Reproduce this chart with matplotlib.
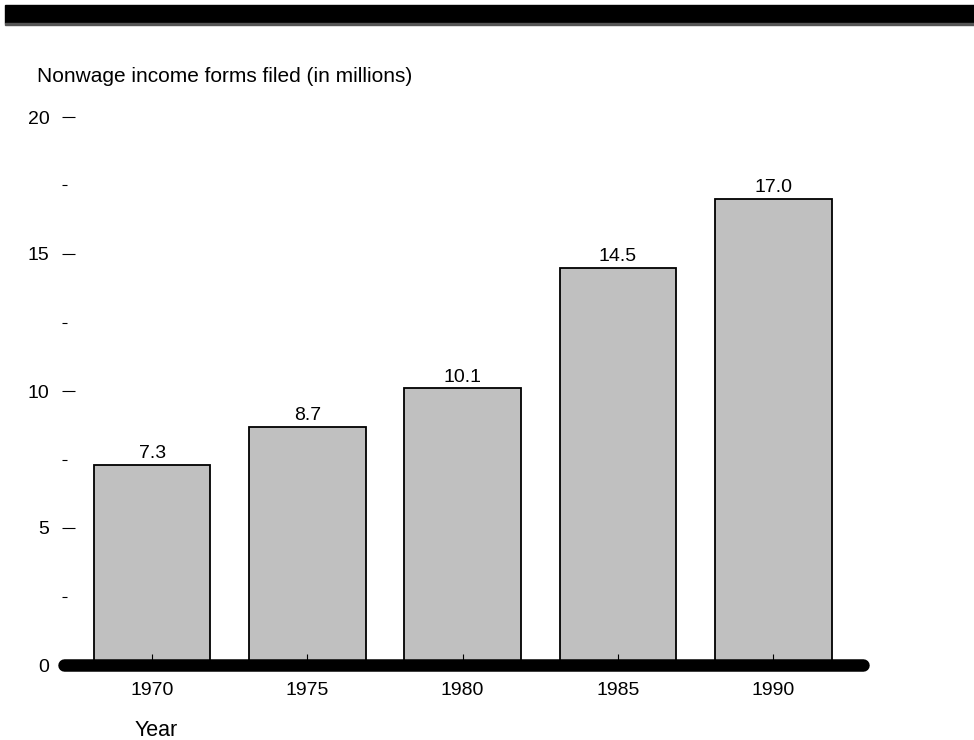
import matplotlib.pyplot as plt
from matplotlib.patches import Rectangle

plt.rcParams['font.family'] = ['Liberation Sans', 'DejaVu Sans']

# data
years = ['1970', '1975', '1980', '1985', '1990']
forms = [7.3, 8.7, 10.1, 14.5, 17.0]
value_labels = ['7.3', '8.7', '10.1', '14.5', '17.0']

fig = plt.figure(figsize=(9.74, 7.40), dpi=100)

# black banner across the top
fig.patches.append(Rectangle((5 / 974, 1 - 23 / 740), 1, 18 / 740,
                             transform=fig.transFigure, color='black', zorder=0))
fig.patches.append(Rectangle((5 / 974, 1 - 24.5 / 740), 1, 1.5 / 740,
                             transform=fig.transFigure, color='#555555', zorder=0))

ax = fig.add_axes([62 / 974, 75 / 740, (868 - 62) / 974, (665 - 117) / 740])

pos = list(range(len(years)))
ax.bar(pos, forms, width=0.75, color='#c0c0c0', edgecolor='black', linewidth=1.3)

for x, v, lab in zip(pos, forms, value_labels):
    ax.text(x, v + 0.1, lab, ha='center', va='bottom', fontsize=14)

ax.set_xlim(-0.58, 4.61)
ax.set_ylim(0, 20)

# thick rounded baseline
ax.plot([-0.565, 4.58], [0, 0], color='black', linewidth=9, solid_capstyle='round',
        clip_on=False, zorder=3)

for side in ['left', 'right', 'top', 'bottom']:
    ax.spines[side].set_visible(False)

ax.set_xticks(pos)
ax.set_xticklabels(years, fontsize=14)
ax.tick_params(axis='x', direction='in', length=8, width=0.8, pad=12)

ax.set_yticks([0, 5, 10, 15, 20])
ax.set_yticks([2.5, 7.5, 12.5, 17.5], minor=True)
ax.tick_params(axis='y', which='major', direction='in', length=9.5, width=0.8,
               pad=9, labelsize=14)
ax.tick_params(axis='y', which='minor', direction='in', length=3.5, width=0.8)

fig.text(37 / 974, 1 - 76 / 740, 'Nonwage income forms filed (in millions)',
         fontsize=15, ha='left', va='center')
fig.text(135 / 974, 1 - 730 / 740, 'Year', fontsize=15.5, ha='left', va='center')

fig.savefig('out.png', dpi=100)
